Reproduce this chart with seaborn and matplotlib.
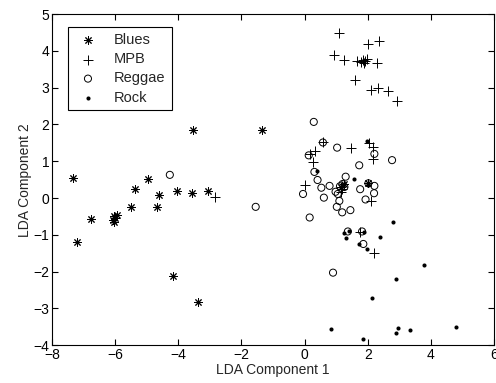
import pandas as pd
import matplotlib
matplotlib.use('Agg')
import matplotlib.pyplot as plt
import seaborn as sns

# LDA projections
blues_x = [-7.33, -3.55, -1.34, -4.95, -5.37, -4.61, -4.04, -3.58, -3.06, -5.5, -4.69, -6.77,
           -6.05, -6.0, -6.08, -5.95, -6.05, -7.2, -4.17, -3.37, 1.15, 1.25, 2.02]
blues_y = [0.54, 1.85, 1.85, 0.53, 0.24, 0.08, 0.2, 0.13, 0.18, -0.25, -0.24, -0.58,
           -0.5, -0.55, -0.6, -0.47, -0.65, -1.19, -2.11, -2.83, 0.3, 0.38, 0.4]

mpb_x = [-2.84, 1.09, 2.0, 2.37, 0.92, 1.26, 1.65, 1.78, 1.85, 1.92, 1.98, 1.88, 2.29, 1.6,
         2.11, 2.32, 2.65, 2.93, 0.58, 1.48, 2.05, 2.16, 2.18, 0.32, 0.16, 0.26, 0.0, 2.11,
         1.74, 2.21, 1.15, 1.2]
mpb_y = [0.04, 4.48, 4.2, 4.26, 3.88, 3.74, 3.72, 3.7, 3.75, 3.72, 3.78, 3.68, 3.67, 3.21,
         2.93, 3.0, 2.92, 2.63, 1.51, 1.37, 1.5, 1.39, 1.05, 1.29, 1.21, 0.97, 0.35, -0.08,
         -0.93, -1.5, 0.15, 0.25]

reggae_x = [-4.27, -1.55, 0.29, 0.58, 1.03, 2.21, 2.77, 0.13, 0.31, 1.73, 0.41, 1.3, -0.05,
            0.53, 0.61, 0.79, 0.98, 1.05, 1.12, 1.2, 1.26, 1.1, 1.02, 1.19, 1.45, 1.76, 2.02,
            2.21, 2.2, 1.93, 0.16, 1.37, 1.82, 1.86, 0.9]
reggae_y = [0.63, -0.24, 2.07, 1.51, 1.37, 1.2, 1.03, 1.16, 0.71, 0.89, 0.49, 0.58, 0.11,
            0.28, 0.01, 0.33, 0.17, 0.11, 0.32, 0.38, 0.3, -0.08, -0.24, -0.39, -0.33, 0.24, 0.4,
            0.33, 0.13, -0.04, -0.53, -0.91, -0.91, -1.25, -2.03]

rock_x = [1.97, 0.39, 1.56, 2.79, 1.26, 1.3, 1.42, 1.87, 2.38, 1.72, 1.98, 3.79, 2.9, 2.14,
          0.83, 1.86, 2.96, 2.9, 3.34, 4.78, 2.0]
rock_y = [1.54, 0.74, 0.52, -0.65, -0.95, -1.08, -0.9, -0.92, -1.07, -1.25, -1.4, -1.83, -2.21,
          -2.73, -3.55, -3.83, -3.54, -3.68, -3.6, -3.51, 0.35]

sns.set_style('ticks')
plt.rcParams['font.family'] = ['Liberation Sans', 'DejaVu Sans']

fig, ax = plt.subplots(figsize=(4.96, 3.83), dpi=100)
fig.subplots_adjust(left=0.105, right=0.996, top=0.963, bottom=0.099)

sns.scatterplot(x=blues_x, y=blues_y, marker=(8, 2, 0), s=30, color='black',
                linewidth=0.7, label='Blues', ax=ax)
sns.scatterplot(x=mpb_x, y=mpb_y, marker='+', s=45, color='black',
                linewidth=0.7, label='MPB', ax=ax)
sns.scatterplot(x=reggae_x, y=reggae_y, marker='o', s=26, facecolor='none',
                edgecolor='black', linewidth=0.7, label='Reggae', ax=ax)
sns.scatterplot(x=rock_x, y=rock_y, marker='.', s=35, color='black',
                linewidth=0, label='Rock', ax=ax)

ax.set_xlim(-8, 6)
ax.set_ylim(-4, 5)
ax.set_xticks(range(-8, 7, 2))
ax.set_yticks(range(-4, 6))
ax.tick_params(direction='in', top=True, right=True, length=4, width=0.8,
               labelsize=10, colors='black', pad=2)
for s in ax.spines.values():
    s.set_visible(True)
    s.set_color('black')
    s.set_linewidth(0.8)

ax.set_xlabel('LDA Component 1', fontsize=10, labelpad=1)
ax.set_ylabel('LDA Component 2', fontsize=10, labelpad=1)

leg = ax.legend(loc='upper left', bbox_to_anchor=(0.035, 0.96), fontsize=10.5,
                frameon=True, fancybox=False, edgecolor='black', framealpha=1,
                borderpad=0.4, labelspacing=0.35, handletextpad=0.8, borderaxespad=0)
leg.get_frame().set_linewidth(0.8)

plt.savefig('out.png', dpi=100)
